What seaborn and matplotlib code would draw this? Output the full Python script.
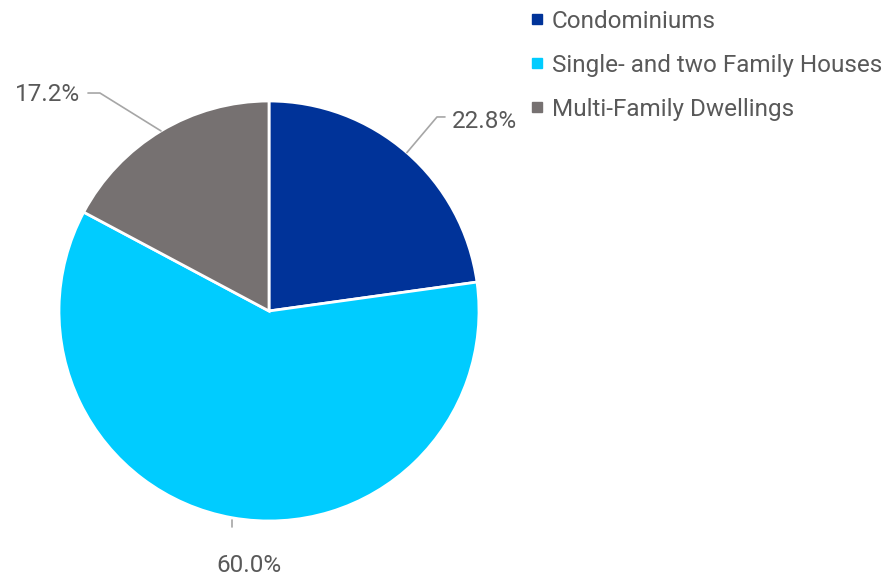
"""
Pie chart of housing stock by property type.
"""

import numpy as np
import matplotlib.pyplot as plt
import seaborn as sns
from matplotlib.lines import Line2D

categories = ["Condominiums", "Single- and two Family Houses", "Multi-Family Dwellings"]
shares = [22.8, 60.0, 17.2]
colors = ["#003399", "#00CCFF", "#767171"]

sns.set_style("white")
plt.rcParams["font.family"] = ["Roboto", "DejaVu Sans"]
text_color = "#595959"

fig = plt.figure(figsize=(8.94, 5.76), dpi=100)
# pie centred at (269, 311) px, radius 210 px
ax = fig.add_axes([59 / 894, 55 / 576, 420 / 894, 420 / 576])
wedges, _ = ax.pie(
    shares, colors=colors, startangle=90, counterclock=False,
    wedgeprops=dict(edgecolor="white", linewidth=2), radius=1.0,
)
ax.set_xlim(-1, 1)
ax.set_ylim(-1, 1)
ax.set_aspect("equal")
ax.axis("off")

# data labels with leader lines: (elbow, line end, text pos, ha)
label_layout = [
    ((0.80, 0.924), (0.838, 0.924), (0.87, 0.90), "left"),
    (None, None, (-0.095, -1.21), "center"),
    ((-0.805, 1.038), (-0.862, 1.038), (-0.90, 1.029), "right"),
]
line_color = "#A6A6A6"
for w, val, (elbow, end, txt, ha) in zip(wedges, shares, label_layout):
    mid = np.deg2rad((w.theta1 + w.theta2) / 2)
    px, py = np.cos(mid), np.sin(mid)
    if elbow is None:
        ax.plot([px, px], [py - 0.01, py - 0.045], color=line_color, lw=1.2, clip_on=False)
    else:
        ax.plot([px, elbow[0], end[0]], [py, elbow[1], end[1]],
                color=line_color, lw=1.2, clip_on=False)
    ax.text(txt[0], txt[1], f"{val:.1f}%", ha=ha, va="center",
            fontsize=17.5, color=text_color, clip_on=False)

handles = [Line2D([], [], marker="s", linestyle="none", markersize=6.5,
                  markerfacecolor=c, markeredgecolor=c) for c in colors]
fig.legend(handles, categories, loc="upper left", bbox_to_anchor=(520 / 894, 1.0),
           frameon=False, fontsize=17.5, labelcolor=text_color,
           handlelength=0.6, handletextpad=0.3, labelspacing=0.86, borderaxespad=0.0)

plt.savefig("out.png", dpi=100)
